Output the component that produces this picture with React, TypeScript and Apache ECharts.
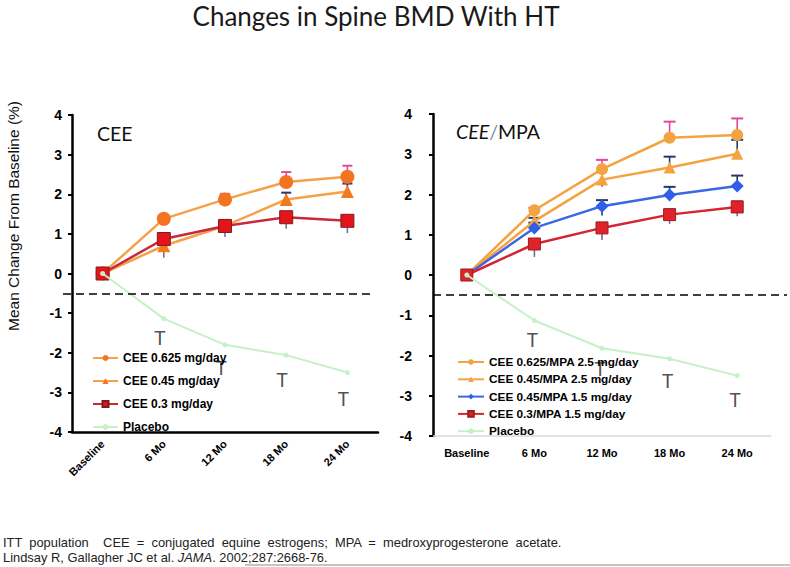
import React, { useEffect, useRef } from 'react';
import * as echarts from 'echarts';

// ---------- data ----------
const categories = ['Baseline', '6 Mo', '12 Mo', '18 Mo', '24 Mo'];
const dashedLevel = -0.5;

// CEE panel
const ceeNames = ['CEE 0.625 mg/day', 'CEE 0.45 mg/day', 'CEE 0.3 mg/day', 'Placebo'];
const cee0625 = [0, 1.38, 1.87, 2.31, 2.44];
const cee0625High = [null, 1.43, 2.01, 2.56, 2.72];
const cee045 = [0, 0.7, 1.2, 1.87, 2.07];
const cee045High = [null, null, 1.29, 2.04, 2.27];
const cee045Low = [null, null, null, null, 1.92];
const cee03 = [0, 0.87, 1.2, 1.42, 1.33];
const cee03Low = [null, 0.4, 0.92, 1.13, 1.02];
const ceePlacebo = [0, -1.14, -1.8, -2.06, -2.5];
const ceePlaceboErr = [null, -1.62, -2.38, -2.68, -3.15];

// CEE/MPA panel
const mpaNames = [
  'CEE 0.625/MPA 2.5 mg/day',
  'CEE 0.45/MPA 2.5 mg/day',
  'CEE 0.45/MPA 1.5 mg/day',
  'CEE 0.3/MPA 1.5 mg/day',
  'Placebo',
];
const mpa0625_25 = [0, 1.61, 2.63, 3.41, 3.48];
const mpa0625_25High = [null, 1.67, 2.86, 3.81, 3.89];
const mpa045_25 = [0, 1.34, 2.37, 2.67, 3.01];
const mpa045_25High = [null, 1.42, null, 2.94, 3.36];
const mpa045_25Low = [null, null, 2.2, null, null];
const mpa045_15 = [0, 1.17, 1.71, 1.99, 2.21];
const mpa045_15High = [null, 1.3, 1.86, 2.19, 2.47];
const mpa045_15Low = [null, null, 1.48, null, null];
const mpa03_15 = [0, 0.77, 1.17, 1.5, 1.69];
const mpa03_15High = [null, null, null, null, 1.83];
const mpa03_15Low = [null, 0.45, 0.87, 1.27, 1.46];
const mpaPlacebo = [0, -1.13, -1.82, -2.08, -2.5];
const mpaPlaceboErr = [null, -1.6, -2.33, -2.63, -3.1];

const footLine1 =
  'ITT  population    CEE  =  conjugated  equine  estrogens;  MPA  =  medroxyprogesterone  acetate.';
const footLine2 = 'Lindsay R, Gallagher JC et al. {i|JAMA}. 2002;287:2668-76.';

// ---------- helpers ----------
function errSeries(idx: number, means: number[], ends: (number | null)[], color: string, cap: number) {
  const data: any[] = [];
  means.forEach((m, i) => {
    const e = ends[i];
    if (e != null) data.push([categories[i], e, m]);
  });
  return {
    type: 'custom',
    name: 'err',
    xAxisIndex: idx,
    yAxisIndex: idx,
    silent: true,
    z: 1,
    data,
    encode: { x: 0, y: [1, 2] },
    renderItem: (params: any, api: any) => {
      const x = api.value(0);
      const end = api.coord([x, api.value(1)]);
      const base = api.coord([x, api.value(2)]);
      const children: any[] = [
        {
          type: 'line',
          shape: { x1: base[0], y1: base[1], x2: end[0], y2: end[1] },
          style: { stroke: color, lineWidth: 1.6 },
        },
      ];
      if (cap > 0) {
        children.push({
          type: 'line',
          shape: { x1: end[0] - cap, y1: end[1], x2: end[0] + cap, y2: end[1] },
          style: { stroke: color, lineWidth: 2 },
        });
      }
      return { type: 'group', children };
    },
  };
}

function lineSeries(
  idx: number,
  name: string,
  data: number[],
  lineColor: string,
  symbol: string,
  size: number,
  fill: string,
  border?: string,
  width = 2.5
) {
  return {
    type: 'line',
    name,
    xAxisIndex: idx,
    yAxisIndex: idx,
    data,
    symbol,
    symbolSize: size,
    showAllSymbol: true,
    z: 3,
    lineStyle: { color: lineColor, width },
    itemStyle: { color: fill, borderColor: border || fill, borderWidth: border ? 1 : 0 },
    emphasis: { disabled: true },
  };
}

function tSeries(idx: number, vals: (number | null)[], dx: number) {
  const data: any[] = [];
  vals.forEach((v, i) => {
    if (v != null) data.push([categories[i], v]);
  });
  return {
    type: 'scatter',
    name: 'tmark',
    xAxisIndex: idx,
    yAxisIndex: idx,
    data,
    symbolSize: 1,
    silent: true,
    itemStyle: { color: 'rgba(0,0,0,0)' },
    label: {
      show: true,
      position: 'inside',
      formatter: 'T',
      fontSize: 19,
      fontFamily: 'Lato',
      color: '#222',
      offset: [dx, 0],
    },
  };
}

function dashed(x1: number, x2: number) {
  return {
    silent: true,
    symbol: ['none', 'none'],
    label: { show: false },
    lineStyle: { color: '#000', type: [8, 5], width: 1.5 },
    data: [[{ x: x1, yAxis: dashedLevel }, { x: x2, yAxis: dashedLevel }]],
  };
}

const tickLabel = { fontSize: 14, fontWeight: 'bold', color: '#000', fontFamily: 'Liberation Sans' };

export default function App() {
  const ref = useRef<HTMLDivElement>(null);
  useEffect(() => {
    if (!ref.current) return;
    const chart = echarts.init(ref.current, null, { renderer: 'svg' });
    const leftPlacebo: any = lineSeries(0, 'Placebo', ceePlacebo, '#c6f1c6', 'circle', 5, '#c6f1c6', undefined, 2);
    leftPlacebo.markLine = dashed(63, 372);
    leftPlacebo.z = 4;
    const rightPlacebo: any = lineSeries(1, 'Placebo', mpaPlacebo, '#c6f1c6', 'circle', 5, '#c6f1c6', undefined, 2);
    rightPlacebo.markLine = dashed(433, 787);
    rightPlacebo.z = 4;

    const option: any = {
      animation: false,
      backgroundColor: '#fff',
      grid: [
        { left: 72, top: 115, width: 306, height: 317 },
        { left: 433, top: 114, width: 338, height: 322 },
      ],
      xAxis: [
        {
          type: 'category',
          gridIndex: 0,
          data: categories,
          axisLine: { onZero: false, lineStyle: { color: '#000', width: 2.5 } },
          axisTick: { show: false },
          axisLabel: { ...tickLabel, fontSize: 11, rotate: 45, margin: 10, interval: 0 },
        },
        {
          type: 'category',
          gridIndex: 1,
          data: categories,
          axisLine: { onZero: false, lineStyle: { color: '#d9d9d9', width: 1.5 } },
          axisTick: { show: false },
          axisLabel: { ...tickLabel, fontSize: 11, margin: 11, interval: 0 },
        },
      ],
      yAxis: [
        {
          type: 'value',
          gridIndex: 0,
          min: -4,
          max: 4,
          interval: 1,
          splitLine: { show: false },
          axisLine: { show: true, lineStyle: { color: '#000', width: 2.5 } },
          axisTick: { show: true, length: 4, lineStyle: { color: '#000', width: 2 } },
          axisLabel: { ...tickLabel, margin: 10 },
        },
        {
          type: 'value',
          gridIndex: 1,
          min: -4,
          max: 4,
          interval: 1,
          splitLine: { show: false },
          axisLine: { show: true, lineStyle: { color: '#000', width: 2.5 } },
          axisTick: { show: true, length: 4, lineStyle: { color: '#000', width: 2 } },
          axisLabel: { ...tickLabel, margin: 21 },
        },
      ],
      legend: [
        {
          data: ceeNames,
          orient: 'vertical',
          left: 92,
          top: 352,
          padding: 0,
          itemWidth: 25,
          itemHeight: 7.5,
          itemGap: 11,
          selectedMode: false,
          textStyle: { fontSize: 12, fontWeight: 'bold', color: '#000', fontFamily: 'Liberation Sans' },
        },
        {
          data: mpaNames,
          orient: 'vertical',
          left: 457,
          top: 356,
          padding: 0,
          itemWidth: 26,
          itemHeight: 7,
          itemGap: 5.3,
          selectedMode: false,
          textStyle: { fontSize: 11.8, fontWeight: 'bold', color: '#000', fontFamily: 'Liberation Sans' },
        },
      ],
      series: [
        // left error bars
        errSeries(0, cee0625, cee0625High, '#e2489f', 5),
        errSeries(0, cee045, cee045High, '#233a66', 5),
        errSeries(0, cee045, cee045Low, '#233a66', 0),
        errSeries(0, cee03, cee03Low, '#7b6b9b', 0),
        // left lines
        lineSeries(0, ceeNames[0], cee0625, '#f4a24a', 'circle', 14, '#f37321'),
        lineSeries(0, ceeNames[1], cee045, '#f4a24a', 'triangle', 13, '#f27a1e'),
        lineSeries(0, ceeNames[2], cee03, '#c8283c', 'rect', 13, '#e5141b', '#7a1e1e'),
        leftPlacebo,
        tSeries(0, ceePlaceboErr, -4),
        // right error bars
        errSeries(1, mpa0625_25, mpa0625_25High, '#e2489f', 6),
        errSeries(1, mpa045_25, mpa045_25High, '#233a66', 6),
        errSeries(1, mpa045_25, mpa045_25Low, '#233a66', 0),
        errSeries(1, mpa045_15, mpa045_15High, '#233a66', 6),
        errSeries(1, mpa045_15, mpa045_15Low, '#233a66', 0),
        errSeries(1, mpa03_15, mpa03_15High, '#d6304a', 6),
        errSeries(1, mpa03_15, mpa03_15Low, '#7b6b9b', 0),
        // right lines
        lineSeries(1, mpaNames[0], mpa0625_25, '#f5a341', 'circle', 12, '#f5a341'),
        lineSeries(1, mpaNames[1], mpa045_25, '#f5a341', 'triangle', 12, '#f5a341'),
        lineSeries(1, mpaNames[2], mpa045_15, '#3a67e2', 'diamond', 13, '#2f5fe8'),
        lineSeries(1, mpaNames[3], mpa03_15, '#d52530', 'rect', 12, '#e0222a', '#9a1e1e'),
        rightPlacebo,
        tSeries(1, mpaPlaceboErr, -2),
      ],
      graphic: [
        {
          type: 'text',
          x: 376,
          y: 16,
          style: {
            text: 'Changes in Spine BMD With HT',
            fill: '#1a1a1a',
            fontSize: 26,
            fontFamily: 'Lato',
            textAlign: 'center',
            textVerticalAlign: 'middle',
            align: 'center',
            verticalAlign: 'middle',
          },
        },
        {
          type: 'text',
          x: 13,
          y: 216,
          rotation: Math.PI / 2,
          style: {
            text: 'Mean Change From Baseline (%)',
            fill: '#111',
            fontSize: 15.5,
            fontFamily: 'Liberation Sans',
            textAlign: 'center',
            textVerticalAlign: 'middle',
            align: 'center',
            verticalAlign: 'middle',
          },
        },
        {
          type: 'text',
          x: 97,
          y: 133,
          style: {
            text: 'CEE',
            fill: '#111',
            fontSize: 19.5,
            fontFamily: 'Lato',
            textVerticalAlign: 'middle',
            verticalAlign: 'middle',
          },
        },
        {
          type: 'text',
          x: 456,
          y: 131,
          style: {
            text: '{i|CEE}{s|/}{n|MPA}',
            fill: '#111',
            fontSize: 19.5,
            fontFamily: 'Lato',
            textVerticalAlign: 'middle',
            verticalAlign: 'middle',
            rich: {
              i: { fontStyle: 'italic', fontSize: 19.5, fontFamily: 'Lato', fill: '#111' },
              s: { fontSize: 19.5, fontFamily: 'Lato', fill: '#6f8fb3' },
              n: { fontSize: 19.5, fontFamily: 'Lato', fill: '#111' },
            },
          },
        },
        {
          type: 'text',
          x: 3,
          y: 542,
          style: {
            text: footLine1,
            fill: '#222',
            fontSize: 12.9,
            fontFamily: 'Liberation Sans',
            textVerticalAlign: 'middle',
            verticalAlign: 'middle',
          },
        },
        {
          type: 'text',
          x: 3,
          y: 557,
          style: {
            text: footLine2,
            fill: '#222',
            fontSize: 12.9,
            fontFamily: 'Liberation Sans',
            textVerticalAlign: 'middle',
            verticalAlign: 'middle',
            rich: {
              i: { fontStyle: 'italic', fontSize: 12.9, fontFamily: 'Liberation Sans', fill: '#222' },
            },
          },
        },
        {
          type: 'line',
          shape: { x1: 245, y1: 565, x2: 790, y2: 565 },
          style: { stroke: '#8c8c8c', lineWidth: 1 },
        },
      ],
    };
    chart.setOption(option);
    return () => chart.dispose();
  }, []);
  return <div ref={ref} style={{ position: 'absolute', left: 0, top: 0, width: 790, height: 567 }} />;
}
